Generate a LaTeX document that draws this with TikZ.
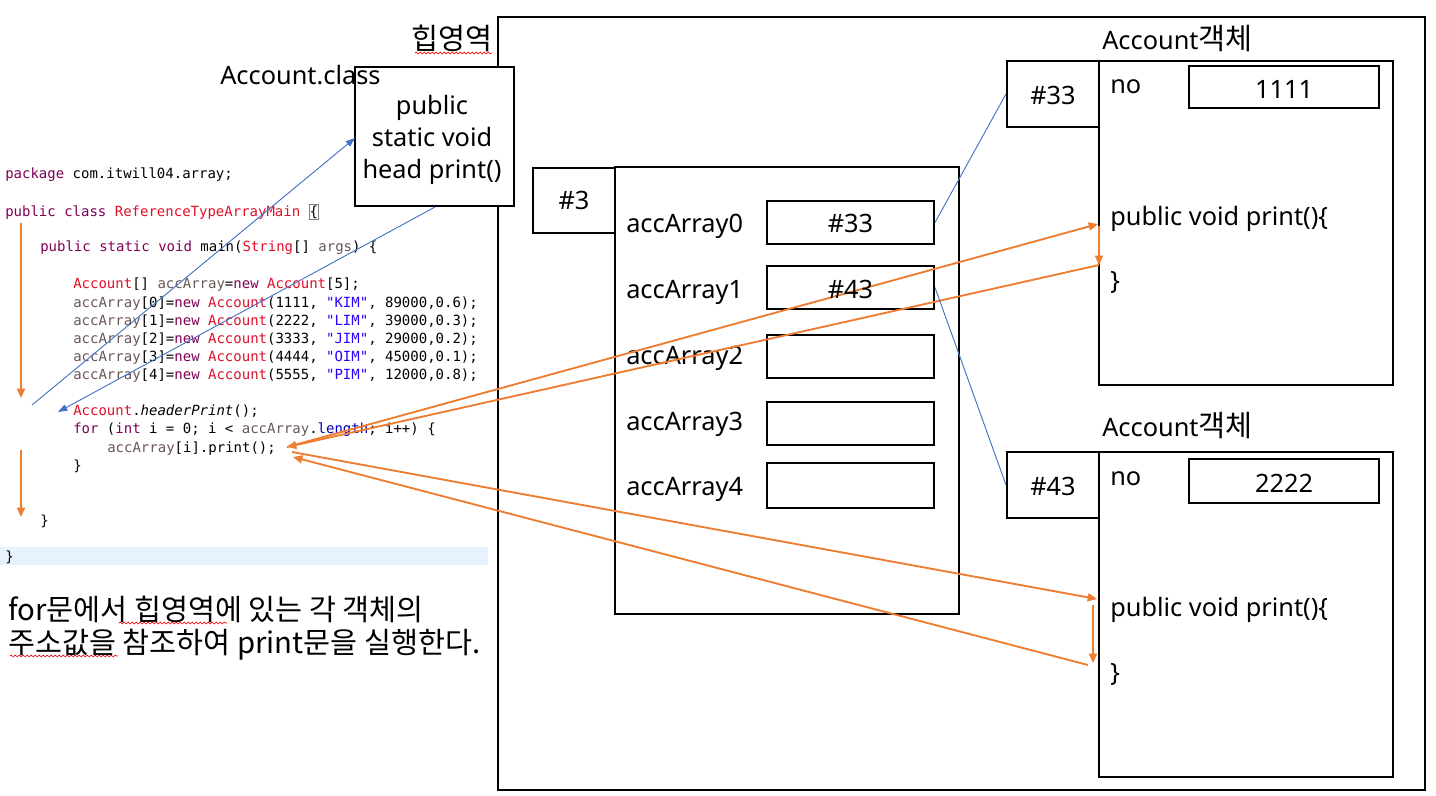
\documentclass[tikz,border=0pt]{standalone}
\usepackage{fontspec}
\setmainfont{Noto Sans}
\newfontfamily\kr{Noto Sans CJK KR}
\newfontfamily\codefont{DejaVu Sans Mono}
\usetikzlibrary{arrows.meta,decorations.pathmorphing}
\definecolor{orange1}{HTML}{ED7D31}
\definecolor{blue1}{HTML}{4472C4}
\definecolor{kwc}{HTML}{7F0055}
\definecolor{tyc}{HTML}{E0102A}
\definecolor{strc}{HTML}{2A00FF}
\definecolor{fldc}{HTML}{0000C0}
\definecolor{varc}{HTML}{6A5656}
\definecolor{bandc}{HTML}{E8F2FE}
\newcommand{\kw}[1]{\textcolor{kwc}{#1}}
\newcommand{\ty}[1]{\textcolor{tyc}{#1}}
\newcommand{\st}[1]{\textcolor{strc}{#1}}
\newcommand{\vr}[1]{\textcolor{varc}{#1}}
\newcommand{\fl}[1]{\textcolor{fldc}{#1}}
\newcommand{\krbig}{\kr\fontsize{22}{26}\selectfont}
\tikzset{
  box/.style={draw, line width=1.5pt, fill=white, inner sep=0pt},
  wh/.style 2 args={minimum width=#1*0.75pt, minimum height=#2*0.75pt},
  lbl/.style={font=\fontsize{19}{23}\selectfont, inner sep=0pt, text height=13.5pt, text depth=0pt},
  krlbl/.style={font=\krbig, inner sep=0pt, text height=15pt, text depth=0pt},
  code/.style={font=\codefont\fontsize{10.5}{12}\selectfont, anchor=west, inner sep=0pt, text height=7.6pt, text depth=0pt},
  oarr/.style={draw=orange1, line width=1.4pt, -{Triangle[length=7pt,width=6pt]}},
  barr/.style={draw=blue1, line width=0.7pt, -{Triangle[length=7pt,width=5pt]}},
  bline/.style={draw=blue1, line width=0.7pt},
  squig/.style={draw=red, line width=0.5pt, decorate, decoration={snake, amplitude=0.7pt, segment length=3pt}},
}
\begin{document}
\begin{tikzpicture}[x=0.75pt, y=-0.75pt]
\useasboundingbox (0,0) rectangle (1436,796);
% code band
\node[fill=bandc, inner sep=0pt, wh={488}{18}] (band) at (244,556) {};
% heap
\node[box, fill=none, wh={927}{773}] (heap) at (961.5,403.5) {};
\node[krlbl, anchor=east] (heaplbl) at (493,39) {힙영역};
\draw[squig] (415,53) -- (492,53);
% Account.class
\node[box, wh={159}{139}] (acbox) at (434,136) {};
\node[lbl] (ac1) at (432,105) {public};
\node[lbl] (ac2) at (432,137) {static void};
\node[lbl] (ac3) at (432,169) {head print()};
\node[lbl, anchor=west] (aclbl) at (220,75) {Account.class};
% array
\node[box, wh={344}{447}] (arr) at (787,390.5) {};
\node[box, wh={82}{65}] (h3) at (574,200.5) {};
\node[lbl] (h3t) at (574,200.5) {\#3};
\node[lbl, anchor=west] (a0) at (626,223) {accArray0};
\node[lbl, anchor=west] (a1) at (626,289) {accArray1};
\node[lbl, anchor=west] (a2) at (626,355) {accArray2};
\node[lbl, anchor=west] (a3) at (626,421) {accArray3};
\node[lbl, anchor=west] (a4) at (626,486) {accArray4};
\node[box, wh={167}{43}] (s0) at (850.5,222.5) {};
\node[box, wh={167}{43}] (s1) at (850.5,287.5) {};
\node[box, wh={167}{43}] (s2) at (850.5,356.5) {};
\node[box, wh={167}{43}] (s3) at (850.5,423.5) {};
\node[box, wh={167}{45}] (s4) at (850.5,485.5) {};
\node[lbl] (s0t) at (850.5,223) {\#33};
% objects
\node[lbl, anchor=west] (o1lbl) at (1102,40) {Account{\krbig 객체}};
\node[box, wh={294}{324}] (o1) at (1246,223) {};
\node[box, wh={92}{66}] (h33) at (1053,94) {};
\node[lbl] (h33t) at (1053,95) {\#33};
\node[box, wh={190}{42}] (v1) at (1284,87) {};
\node[lbl] (v1t) at (1284,89) {1111};
\node[lbl, anchor=west] (no1) at (1110,84) {no};
\node[lbl, anchor=west] (pr1) at (1110,216) {public void print()\{};
\node[lbl, anchor=west] (cb1) at (1110,280) {\}};

\node[lbl, anchor=west] (o2lbl) at (1102,427) {Account{\krbig 객체}};
\node[box, wh={294}{325}] (o2) at (1246,614.5) {};
\node[box, wh={92}{66}] (h43) at (1053,485) {};
\node[lbl] (h43t) at (1053,486) {\#43};
\node[box, wh={190}{44}] (v2) at (1284,481) {};
\node[lbl] (v2t) at (1284,483) {2222};
\node[lbl, anchor=west] (no2) at (1110,476) {no};
\node[lbl, anchor=west] (pr2) at (1110,607) {public void print()\{};
\node[lbl, anchor=west] (cb2) at (1110,672) {\}};
% code
\node[code] (c1) at (5,173) {\kw{package} com.itwill04.array;};
\node[code] (c2) at (5,211) {\kw{public} \kw{class} \ty{ReferenceTypeArrayMain} {\setlength{\fboxsep}{0.3pt}\fcolorbox{gray}{white}{\{}}};
\node[code] (c3) at (40,246) {\kw{public} \kw{static} \kw{void} main(\ty{String}[] \vr{args}) \{};
\node[code] (c4) at (73,283) {\ty{Account}[] \vr{accArray}=\kw{new} \ty{Account}[5];};
\node[code] (c5) at (73,302) {\vr{accArray}[0]=\kw{new} \ty{Account}(1111, \st{"KIM"}, 89000,0.6);};
\node[code] (c6) at (73,320) {\vr{accArray}[1]=\kw{new} \ty{Account}(2222, \st{"LIM"}, 39000,0.3);};
\node[code] (c7) at (73,338) {\vr{accArray}[2]=\kw{new} \ty{Account}(3333, \st{"JIM"}, 29000,0.2);};
\node[code] (c8) at (73,356) {\vr{accArray}[3]=\kw{new} \ty{Account}(4444, \st{"OIM"}, 45000,0.1);};
\node[code] (c9) at (73,374) {\vr{accArray}[4]=\kw{new} \ty{Account}(5555, \st{"PIM"}, 12000,0.8);};
\node[code] (c10) at (73,410) {\ty{Account}.\textit{headerPrint}();};
\node[code] (c11) at (73,428) {\kw{for} (\kw{int} i = 0; i < \vr{accArray}.\fl{length}; i++) \{};
\node[code] (c12) at (107,447) {\vr{accArray}[i].print();};
\node[code] (c13) at (73,465) {\}};
\node[code] (c14) at (40,520) {\}};
\node[code] (c15) at (5,556) {\}};
% bottom text
\node[krlbl, anchor=west] (t1) at (8,610) {for문에서 힙영역에 있는 각 객체의};
\node[krlbl, anchor=west] (t2) at (8,643) {주소값을 참조하여 print문을 실행한다.};
\draw[squig] (119,623) -- (227,623);
\draw[squig] (10,656) -- (118,656);
% coordinates
\coordinate (v1s) at (21,223);
\coordinate (v1e) at (21,398);
\coordinate (v2s) at (21,450);
\coordinate (v2e) at (21,517);
\coordinate (p1) at (287,447);
\coordinate (p2) at (292,452);
\coordinate (p3) at (293,457);
\coordinate (q1) at (1098,224);
\coordinate (q1b) at (1099,226);
\coordinate (q2) at (1099,265);
\coordinate (r1) at (1097,599);
\coordinate (r1b) at (1093,605);
\coordinate (r2) at (1093,663);
\coordinate (r2b) at (1088,665);
\coordinate (b1s) at (32,405);
\coordinate (b1e) at (355,138);
\coordinate (b2s) at (435,207);
\coordinate (b2e) at (58,412);
% orange arrows
\draw[oarr] (v1s) -- (v1e);
\draw[oarr] (v2s) -- (v2e);
\draw[oarr] (p1) -- (q1);
\draw[oarr] (q1b) -- (q2);
\draw[oarr] (q2) -- (p1);
\draw[oarr] (p2) -- (r1);
\draw[oarr] (r1b) -- (r2);
\draw[oarr] (r2b) -- (p3);
% blue
\draw[barr] (b1s) -- (b1e);
\draw[barr] (b2s) -- (b2e);
\draw[bline] (s0.east) -- (h33.west);
\draw[bline] (s1.east) -- (h43.west);
\node[lbl] (s1t) at (850.5,289) {\#43};
\end{tikzpicture}
\end{document}
